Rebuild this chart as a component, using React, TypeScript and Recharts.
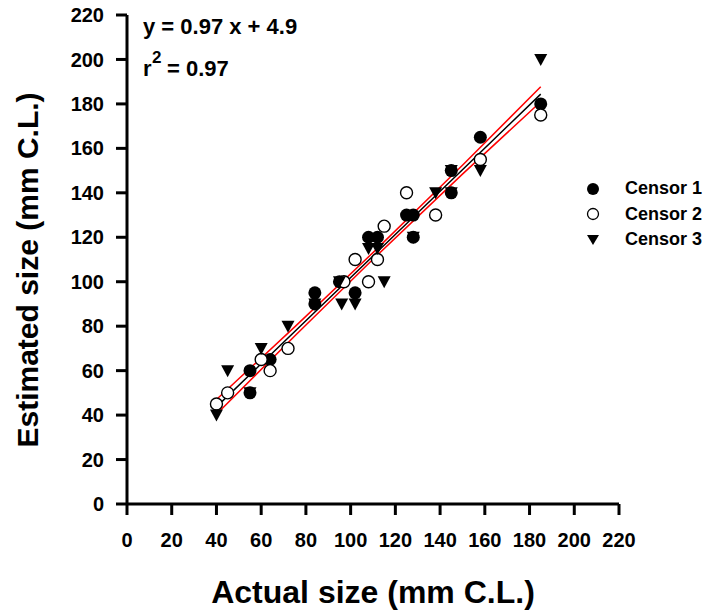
import React from 'react';
import { ScatterChart, Scatter, XAxis, YAxis, Label } from 'recharts';

// readings per censor: actual size (x) vs estimated size (y), mm C.L.
const censor1 = [
  { x: 55, y: 60 }, { x: 55, y: 50 }, { x: 64, y: 65 }, { x: 84, y: 95 },
  { x: 84, y: 90 }, { x: 95, y: 100 }, { x: 102, y: 95 }, { x: 108, y: 120 },
  { x: 112, y: 120 }, { x: 125, y: 130 }, { x: 128, y: 130 }, { x: 128, y: 120 },
  { x: 145, y: 150 }, { x: 145, y: 140 }, { x: 158, y: 165 }, { x: 185, y: 180 },
];
const censor2 = [
  { x: 40, y: 45 }, { x: 45, y: 50 }, { x: 60, y: 65 }, { x: 64, y: 60 },
  { x: 72, y: 70 }, { x: 97, y: 100 }, { x: 102, y: 110 }, { x: 108, y: 100 },
  { x: 112, y: 110 }, { x: 115, y: 125 }, { x: 125, y: 140 }, { x: 138, y: 130 },
  { x: 158, y: 155 }, { x: 185, y: 175 },
];
const censor3 = [
  { x: 40, y: 40 }, { x: 45, y: 60 }, { x: 55, y: 50 }, { x: 60, y: 70 },
  { x: 72, y: 80 }, { x: 84, y: 90 }, { x: 95, y: 100 }, { x: 96, y: 90 },
  { x: 102, y: 90 }, { x: 108, y: 115 }, { x: 112, y: 115 }, { x: 115, y: 100 },
  { x: 128, y: 120 }, { x: 138, y: 140 }, { x: 145, y: 150 }, { x: 145, y: 140 },
  { x: 158, y: 150 }, { x: 185, y: 200 },
];

// fitted line and its confidence band
const fitLine = [
  { x: 40, y: 43.7 }, { x: 75, y: 77.6 }, { x: 110, y: 111.6 }, { x: 150, y: 150.4 }, { x: 185, y: 184.4 },
];
const bandUpper = [
  { x: 40, y: 47.0 }, { x: 75, y: 79.7 }, { x: 110, y: 113.1 }, { x: 150, y: 152.4 }, { x: 185, y: 187.7 },
];
const bandLower = [
  { x: 40, y: 40.4 }, { x: 75, y: 75.6 }, { x: 110, y: 110.1 }, { x: 150, y: 148.4 }, { x: 185, y: 181.0 },
];

const axisTicks = [0, 20, 40, 60, 80, 100, 120, 140, 160, 180, 200, 220];
const seriesNames = ['Censor 1', 'Censor 2', 'Censor 3'];
const equationText = 'y = 0.97 x + 4.9';
const r2Text = '= 0.97';

const FONT = '"Liberation Sans", Arial, Helvetica, sans-serif';

const FilledDot = (p: any) => <circle cx={p.cx} cy={p.cy} r={6.5} fill="#000" />;
const OpenDot = (p: any) => (
  <circle cx={p.cx} cy={p.cy} r={6} fill="#fff" stroke="#000" strokeWidth={1.4} />
);
const DownTri = (p: any) => (
  <path d={`M${p.cx - 6.5},${p.cy - 5.5} L${p.cx + 6.5},${p.cy - 5.5} L${p.cx},${p.cy + 6.5} Z`} fill="#000" />
);
const NoDot = () => <g />;

const legendIcons = [
  <circle cx={8} cy={8} r={6} fill="#000" />,
  <circle cx={8} cy={8} r={5.5} fill="#fff" stroke="#000" strokeWidth={1.3} />,
  <path d="M2,3 L14,3 L8,13 Z" fill="#000" />,
];

const tickStyle = { fontSize: 20, fontWeight: 'bold', fill: '#000', fontFamily: FONT };
const axisStroke = { stroke: '#000', strokeWidth: 3 };

export default function App() {
  return (
    <div style={{ position: 'absolute', left: 0, top: 0, width: 708, height: 615, background: '#fff', fontFamily: FONT }}>
      <ScatterChart width={708} height={615} margin={{ top: 15, right: 89, bottom: 11, left: 0 }}>
        <XAxis
          type="number"
          dataKey="x"
          domain={[0, 220]}
          ticks={axisTicks}
          interval={0}
          height={100}
          tickSize={11}
          tickMargin={18}
          tick={tickStyle}
          axisLine={axisStroke}
          tickLine={axisStroke}
        >
          <Label
            value="Actual size (mm C.L.)"
            position="insideBottom"
            offset={1}
            style={{ fontSize: 32, fontWeight: 'bold', fill: '#000', fontFamily: FONT }}
          />
        </XAxis>
        <YAxis
          type="number"
          dataKey="y"
          domain={[0, 220]}
          ticks={axisTicks}
          interval={0}
          width={127}
          tickSize={11}
          tickMargin={12}
          tick={tickStyle}
          axisLine={axisStroke}
          tickLine={axisStroke}
        >
          <Label
            content={() => (
              <text
                x={38}
                y={270}
                transform="rotate(-90, 38, 270)"
                textAnchor="middle"
                style={{ fontSize: 30, fontWeight: 'bold', fill: '#000', fontFamily: FONT }}
              >
                Estimated size (mm C.L.)
              </text>
            )}
          />
        </YAxis>
        <Scatter data={bandUpper} line={{ stroke: '#ff0000', strokeWidth: 1.5 }} shape={NoDot} legendType="none" isAnimationActive={false} />
        <Scatter data={bandLower} line={{ stroke: '#ff0000', strokeWidth: 1.5 }} shape={NoDot} legendType="none" isAnimationActive={false} />
        <Scatter data={fitLine} line={{ stroke: '#000', strokeWidth: 1.5 }} shape={NoDot} legendType="none" isAnimationActive={false} />
        <Scatter name="Censor 1" data={censor1} shape={FilledDot} isAnimationActive={false} />
        <Scatter name="Censor 2" data={censor2} shape={OpenDot} isAnimationActive={false} />
        <Scatter name="Censor 3" data={censor3} shape={DownTri} isAnimationActive={false} />
      </ScatterChart>
      <div style={{ position: 'absolute', left: 585, top: 176 }}>
        {seriesNames.map((name, i) => (
          <div key={name} style={{ display: 'flex', alignItems: 'center', height: 25.5 }}>
            <svg width={16} height={16} style={{ marginRight: 24 }}>{legendIcons[i]}</svg>
            <span style={{ fontSize: 18, fontWeight: 'bold', color: '#000' }}>{name}</span>
          </div>
        ))}
      </div>
      <svg width={708} height={615} style={{ position: 'absolute', left: 0, top: 0, pointerEvents: 'none' }}>
        <text x={143} y={34} style={{ fontSize: 22, fontWeight: 'bold', fill: '#000', fontFamily: FONT }}>
          {equationText}
        </text>
        <text x={143} y={76} style={{ fontSize: 22, fontWeight: 'bold', fill: '#000', fontFamily: FONT }}>
          r
        </text>
        <text x={152} y={63} style={{ fontSize: 17, fontWeight: 'bold', fill: '#000', fontFamily: FONT }}>
          2
        </text>
        <text x={167} y={76} style={{ fontSize: 22, fontWeight: 'bold', fill: '#000', fontFamily: FONT }}>
          {r2Text}
        </text>
      </svg>
    </div>
  );
}
